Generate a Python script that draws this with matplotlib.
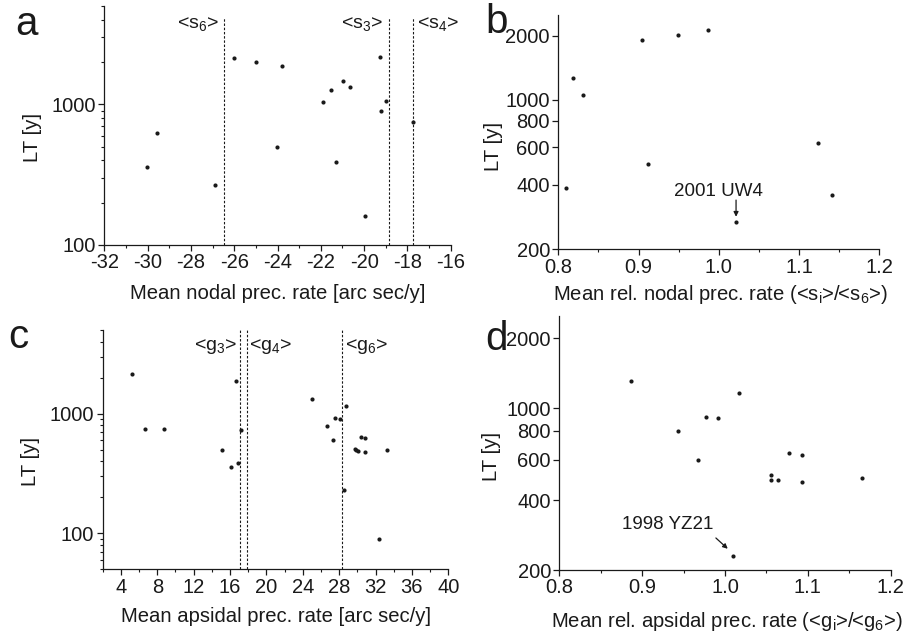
import numpy as np
import matplotlib
matplotlib.use("Agg")
import matplotlib.pyplot as plt
from matplotlib.ticker import (FixedLocator, FormatStrFormatter, LogLocator,
                               MultipleLocator, NullFormatter, NullLocator)

plt.rcParams['font.family'] = ['Liberation Sans', 'DejaVu Sans']
plt.rcParams['mathtext.default'] = 'regular'
plt.rcParams['axes.unicode_minus'] = False

# (a) mean nodal precession rate vs lifetime
nodal_rate = [-30.03, -29.56, -26.90, -25.99, -25.00, -23.80, -24.02, -21.89, -21.54,
              -20.96, -20.65, -21.29, -19.95, -19.25, -19.21, -18.98, -17.75]
nodal_lt = [359, 627, 269, 2118, 1986, 1880, 498, 1038, 1262,
            1462, 1328, 388, 160, 2155, 902, 1055, 745]
s_freqs = {'6': -26.45, '3': -18.86, '4': -17.75}

# (b) relative nodal precession rate vs lifetime
rel_nodal = [0.809, 0.818, 0.831, 0.904, 0.912, 0.949, 0.987, 1.021, 1.123, 1.141]
rel_nodal_lt = [389, 1271, 1050, 1901, 501, 2005, 2135, 269, 628, 358]

# (c) mean apsidal precession rate vs lifetime
apsidal_rate = [5.21, 6.60, 8.71, 15.15, 16.06, 16.61, 16.83, 17.19, 25.05, 26.66, 27.32,
                27.57, 28.05, 28.70, 28.48, 29.73, 29.88, 30.06, 30.39, 30.86, 30.86,
                32.40, 33.24]
apsidal_lt = [2128, 745, 745, 494, 359, 1884, 388, 726, 1316, 794, 599,
              919, 908, 1166, 229, 504, 494, 490, 640, 631, 479,
              90, 498]
g_freqs = {'3': 17.08, '4': 17.82, '6': 28.30}

# (d) relative apsidal precession rate vs lifetime
rel_apsidal = [0.8865, 0.943, 0.968, 0.9775, 0.992, 1.017, 1.0093, 1.0556, 1.056,
               1.064, 1.0773, 1.0926, 1.093, 1.165]
rel_apsidal_lt = [1315, 797, 598, 918, 909, 1168, 230, 512, 489,
                  489, 638, 628, 479, 498]

W, H = 906, 637
fig = plt.figure(figsize=(W / 100, H / 100), dpi=100)


def add_axes_px(left, top, right, bottom):
    return fig.add_axes([left / W, 1 - bottom / H, (right - left) / W, (bottom - top) / H])


INK = '#1a1a1a'
TICK_FS = 14.5
LABEL_FS = 14.6
TAG_FS = 14


def style(ax):
    for s in ('top', 'right'):
        ax.spines[s].set_visible(False)
    for s in ('left', 'bottom'):
        ax.spines[s].set_color(INK)
        ax.spines[s].set_linewidth(0.9)
    ax.tick_params(which='major', direction='out', length=4.5, width=0.9, color=INK,
                   labelsize=TICK_FS, labelcolor=INK, pad=1.5)
    ax.tick_params(which='minor', direction='out', length=2.5, width=0.8, color=INK)
    ax.set_yscale('log')


def dots(ax, x, y):
    ax.scatter(x, y, s=9, color=INK, linewidths=0, zorder=3)


def labels(ax, xlabel, xpos, ypos):
    ax.set_xlabel(xlabel, fontsize=LABEL_FS, color=INK)
    ax.xaxis.set_label_coords(*xpos)
    ax.xaxis.label.set_va('center')
    ax.set_ylabel('LT [y]', fontsize=LABEL_FS, color=INK)
    ax.yaxis.set_label_coords(*ypos)
    ax.yaxis.label.set_va('center')


def tag(ax, x, y, s, ha, clip=True):
    ax.text(x, y, s, transform=ax.get_xaxis_transform(), ha=ha, va='center',
            fontsize=TAG_FS, color=INK, clip_on=False)


dash = (0, (2.2, 1.6))

# ---- panel a
ax = add_axes_px(104.3, 6, 450.7, 245)
style(ax)
dots(ax, nodal_rate, nodal_lt)
ax.set_xlim(-32, -16)
ax.set_ylim(100, 5000)
ax.xaxis.set_major_locator(MultipleLocator(2))
ax.xaxis.set_minor_locator(MultipleLocator(1))
ax.yaxis.set_major_locator(FixedLocator([100, 1000]))
ax.yaxis.set_minor_locator(LogLocator(base=10, subs=np.arange(2, 10)))
ax.yaxis.set_minor_formatter(NullFormatter())
ax.set_yticklabels(['100', '1000'])
for v in s_freqs.values():
    ax.axvline(v, ymax=0.955, color=INK, lw=0.8, ls=dash)
tag(ax, s_freqs['6'] - 0.25, 0.925, '<s$_6$>', 'right')
tag(ax, s_freqs['3'] - 0.25, 0.925, '<s$_3$>', 'right')
tag(ax, s_freqs['4'] + 0.2, 0.925, '<s$_4$>', 'left')
labels(ax, 'Mean nodal prec. rate [arc sec/y]', (0.502, -0.202), (-0.206, 0.448))

# ---- panel b
ax = add_axes_px(558.3, 15, 879.3, 249.3)
style(ax)
dots(ax, rel_nodal, rel_nodal_lt)
ax.set_xlim(0.8, 1.2)
ax.set_ylim(200, 2500)
ax.xaxis.set_major_locator(MultipleLocator(0.1))
ax.xaxis.set_minor_locator(MultipleLocator(0.05))
ax.xaxis.set_major_formatter(FormatStrFormatter('%.1f'))
ax.yaxis.set_major_locator(FixedLocator([200, 400, 600, 800, 1000, 2000]))
ax.yaxis.set_minor_locator(NullLocator())
ax.set_yticklabels(['200', '400', '600', '800', '1000', '2000'])
ax.annotate('', xy=(1.0215, 284), xytext=(1.0215, 340),
            arrowprops=dict(arrowstyle='-|>', lw=0.9, color=INK, mutation_scale=7,
                            shrinkA=0, shrinkB=0))
ax.text(1.0, 372, '2001 UW4', ha='center', va='center', fontsize=13.5, color=INK)
labels(ax, 'Mean rel. nodal prec. rate (<s$_i$>/<s$_6$>)', (0.504, -0.195), (-0.203, 0.438))

# ---- panel c
ax = add_axes_px(102.7, 330, 448.3, 569.3)
style(ax)
dots(ax, apsidal_rate, apsidal_lt)
ax.set_xlim(2, 40)
ax.set_ylim(50, 5000)
ax.set_xticks(np.arange(4, 41, 4))
ax.xaxis.set_minor_locator(MultipleLocator(2))
ax.yaxis.set_major_locator(FixedLocator([100, 1000]))
ax.yaxis.set_minor_locator(LogLocator(base=10, subs=np.arange(2, 10)))
ax.yaxis.set_minor_formatter(NullFormatter())
ax.set_yticklabels(['100', '1000'])
for v in g_freqs.values():
    ax.axvline(v, color=INK, lw=0.8, ls=dash)
tag(ax, g_freqs['3'] - 0.35, 0.93, '<g$_3$>', 'right')
tag(ax, g_freqs['4'] + 0.25, 0.93, '<g$_4$>', 'left')
tag(ax, g_freqs['6'] + 0.35, 0.93, '<g$_6$>', 'left')
labels(ax, 'Mean apsidal prec. rate [arc sec/y]', (0.502, -0.198), (-0.21, 0.45))

# ---- panel d
ax = add_axes_px(559.3, 316, 890.7, 570)
style(ax)
dots(ax, rel_apsidal, rel_apsidal_lt)
ax.set_xlim(0.8, 1.2)
ax.set_ylim(200, 2500)
ax.xaxis.set_major_locator(MultipleLocator(0.1))
ax.xaxis.set_minor_locator(MultipleLocator(0.05))
ax.xaxis.set_major_formatter(FormatStrFormatter('%.1f'))
ax.yaxis.set_major_locator(FixedLocator([200, 400, 600, 800, 1000, 2000]))
ax.yaxis.set_minor_locator(NullLocator())
ax.set_yticklabels(['200', '400', '600', '800', '1000', '2000'])
ax.annotate('', xy=(1.0033, 247), xytext=(0.989, 275),
            arrowprops=dict(arrowstyle='-|>', lw=0.9, color=INK, mutation_scale=7,
                            shrinkA=0, shrinkB=0))
ax.text(0.931, 314, '1998 YZ21', ha='center', va='center', fontsize=13.5, color=INK)
labels(ax, 'Mean rel. apsidal prec. rate (<g$_i$>/<g$_6$>)', (0.505, -0.204), (-0.204, 0.446))

# panel letters
for letter, x, y in (('a', 15, 35), ('b', 485, 33.3), ('c', 8, 348.3), ('d', 485, 350)):
    fig.text(x / W, 1 - y / H, letter, fontsize=29, color=INK, ha='left', va='baseline')

fig.savefig('out.png', dpi=100)
